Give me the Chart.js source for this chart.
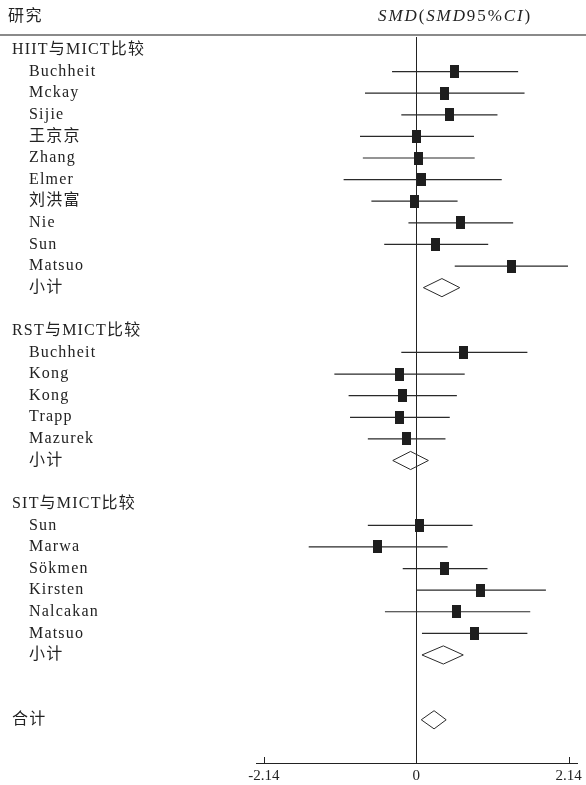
<!DOCTYPE html>
<html>
<head>
<meta charset="utf-8">
<script src="https://cdn.jsdelivr.net/npm/chart.js@4/dist/chart.umd.min.js"></script>
<style>
  html, body { margin: 0; padding: 0; background: #fff; }
  #wrap { width: 586px; height: 785px; }
</style>
</head>
<body>
<div id="wrap"><canvas id="c" width="586" height="785"></canvas></div>
<script>
// ---------- data ----------
const groupTitles = ['HIIT与MICT比较', 'RST与MICT比较', 'SIT与MICT比较'];

const hiitStudies = ['Buchheit', 'Mckay', 'Sijie', '王京京', 'Zhang', 'Elmer', '刘洪富', 'Nie', 'Sun', 'Matsuo'];
const hiitSMD  = [0.53, 0.40, 0.46, 0.00, 0.03, 0.08, -0.03, 0.62, 0.27, 1.33];
const hiitLow  = [-0.34, -0.72, -0.21, -0.79, -0.75, -1.02, -0.63, -0.11, -0.45, 0.54];
const hiitHigh = [1.43, 1.52, 1.14, 0.81, 0.82, 1.20, 0.58, 1.36, 1.01, 2.13];
const hiitSubtotal = [0.36, 0.10, 0.61];   // SMD, low, high

const rstStudies = ['Buchheit', 'Kong', 'Kong', 'Trapp', 'Mazurek'];
const rstSMD  = [0.67, -0.24, -0.20, -0.24, -0.14];
const rstLow  = [-0.21, -1.15, -0.95, -0.93, -0.68];
const rstHigh = [1.56, 0.68, 0.57, 0.47, 0.41];
const rstSubtotal = [-0.08, -0.33, 0.17];

const sitStudies = ['Sun', 'Marwa', 'Sökmen', 'Kirsten', 'Nalcakan', 'Matsuo'];
const sitSMD  = [0.05, -0.54, 0.40, 0.90, 0.57, 0.82];
const sitLow  = [-0.68, -1.51, -0.19, 0.00, -0.44, 0.08];
const sitHigh = [0.79, 0.44, 1.00, 1.82, 1.60, 1.56];
const sitSubtotal = [0.38, 0.08, 0.66];

const overall = [0.25, 0.07, 0.42];
const subtotalLabel = '小计';
const overallLabel = '合计';
const xTickValues = [-2.14, 0, 2.14];

// ---------- build rows ----------
const groups = [
  { title: groupTitles[0], studies: hiitStudies, smd: hiitSMD, low: hiitLow, high: hiitHigh, sub: hiitSubtotal },
  { title: groupTitles[1], studies: rstStudies,  smd: rstSMD,  low: rstLow,  high: rstHigh,  sub: rstSubtotal },
  { title: groupTitles[2], studies: sitStudies,  smd: sitSMD,  low: sitLow,  high: sitHigh,  sub: sitSubtotal }
];

const labels = [];       // {text, row, indent}
const squarePts = [];
const ciPts = [];
const diamondPts = [];
const DH = 0.42;         // diamond half height in row units

function addDiamond(v, row) {
  diamondPts.push({x: v[1], y: row}, {x: v[0], y: row - DH}, {x: v[2], y: row},
                  {x: v[0], y: row + DH}, {x: v[1], y: row}, {x: null, y: null});
}

let row = 0;
groups.forEach(g => {
  labels.push({text: g.title, row: row, indent: false});
  row++;
  g.studies.forEach((s, i) => {
    labels.push({text: s, row: row, indent: true});
    squarePts.push({x: g.smd[i], y: row});
    ciPts.push({x: g.low[i], y: row}, {x: g.high[i], y: row}, {x: null, y: null});
    row++;
  });
  labels.push({text: subtotalLabel, row: row, indent: true});
  addDiamond(g.sub, row);
  row++;
  row++; // blank
});
row++;
labels.push({text: overallLabel, row: row, indent: false});
addDiamond(overall, row);

// ---------- square marker ----------
const sq = document.createElement('canvas');
sq.width = 9; sq.height = 13;
const sctx = sq.getContext('2d');
sctx.fillStyle = '#1e1e1e';
sctx.fillRect(0, 0, 9, 13);

const FONT = '"Liberation Serif", "Noto Sans CJK SC", serif';
const TEXT = '#222';

const decor = {
  id: 'decor',
  afterDraw(chart) {
    const ctx = chart.ctx;
    const ys = chart.scales.y, xs = chart.scales.x;
    ctx.save();
    // header line
    ctx.strokeStyle = '#8a8a8a';
    ctx.lineWidth = 2;
    ctx.beginPath(); ctx.moveTo(0, 35); ctx.lineTo(586, 35); ctx.stroke();
    // header text
    ctx.fillStyle = TEXT;
    ctx.textBaseline = 'middle';
    ctx.letterSpacing = '1.5px';
    ctx.font = '16px ' + FONT;
    ctx.fillText('研究', 8, 17);
    ctx.letterSpacing = '1.9px';
    const segs = [['SMD', true], ['(', false], ['SMD', true], ['95%', false], ['CI', true], [')', false]];
    let x = 378;
    segs.forEach(([t, it]) => {
      ctx.font = (it ? 'italic ' : '') + '17px ' + FONT;
      ctx.fillText(t, x, 17);
      x += ctx.measureText(t).width;
    });
    // row labels
    ctx.letterSpacing = '1.2px';
    ctx.font = '16px ' + FONT;
    labels.forEach(l => {
      ctx.fillText(l.text, l.indent ? 29 : 12, ys.getPixelForValue(l.row));
    });
    // tick marks (upward)
    ctx.letterSpacing = '0px';
    ctx.strokeStyle = '#222';
    ctx.lineWidth = 1;
    const b = chart.chartArea.bottom;
    xTickValues.forEach(v => {
      const px = Math.round(xs.getPixelForValue(v)) + 0.5;
      ctx.beginPath(); ctx.moveTo(px, b); ctx.lineTo(px, b - 6); ctx.stroke();
    });
    ctx.restore();
  }
};

new Chart(document.getElementById('c'), {
  type: 'scatter',
  data: {
    datasets: [
      { type: 'scatter', data: squarePts, pointStyle: sq, pointRadius: 5, showLine: false },
      { type: 'line', data: ciPts, borderColor: '#2a2a2a', borderWidth: 1.2, pointRadius: 0, spanGaps: false, fill: false },
      { type: 'line', data: diamondPts, borderColor: '#2a2a2a', borderWidth: 1, pointRadius: 0, spanGaps: false, fill: false, tension: 0 }
    ]
  },
  options: {
    responsive: false,
    animation: false,
    events: [],
    layout: { padding: { left: 256, right: 5, top: 37, bottom: -4 } },
    plugins: { legend: { display: false }, tooltip: { enabled: false } },
    scales: {
      x: {
        type: 'linear', min: -2.25, max: 2.27,
        afterBuildTicks: s => { s.ticks = xTickValues.map(v => ({ value: v })); },
        ticks: {
          autoSkip: false, maxRotation: 0, padding: 4, color: TEXT,
          font: { family: FONT, size: 15 },
          callback: v => (v === 0 ? '0' : v.toFixed(2))
        },
        grid: {
          drawTicks: false,
          color: c => (c.tick && c.tick.value === 0 ? '#222' : 'rgba(0,0,0,0)'),
          lineWidth: 1
        },
        border: { display: true, color: '#222', width: 1 }
      },
      y: { type: 'linear', reverse: true, min: -0.6, max: 33, display: false }
    }
  },
  plugins: [decor]
});
</script>
</body>
</html>
